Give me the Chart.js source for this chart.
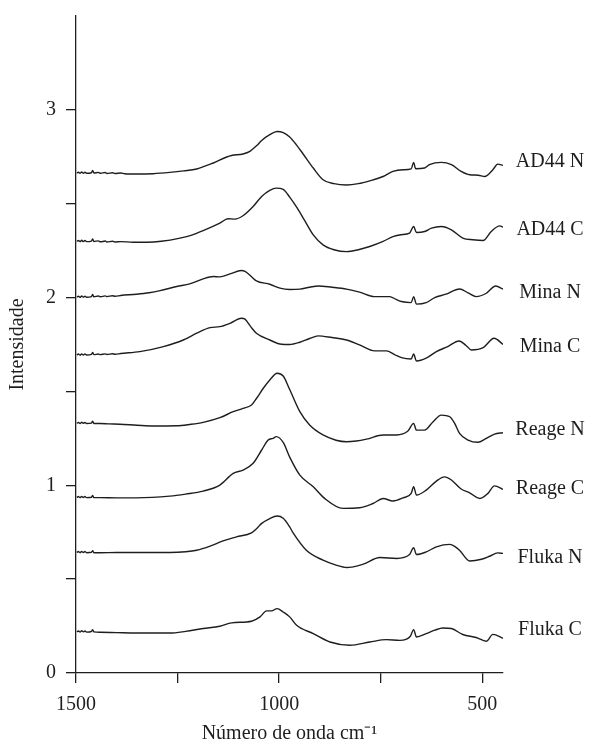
<!DOCTYPE html>
<html>
<head>
<meta charset="utf-8">
<script src="https://cdn.jsdelivr.net/npm/chart.js@4.4.1/dist/chart.umd.min.js"></script>
<style>
  html, body { margin: 0; padding: 0; background: #fff; }
  canvas { display: block; }
</style>
</head>
<body>
<canvas id="spectra" width="589" height="746"></canvas>
<script>
/* ================================
   Data (wavenumber cm-1, intensity)
================================ */
const sampleNames = ["AD44 N", "AD44 C", "Mina N", "Mina C", "Reage N", "Reage C", "Fluka N", "Fluka C"];

// where each name sits on the intensity axis
const labelLevels = [2.725, 2.361, 2.027, 1.739, 1.294, 0.980, 0.613, 0.231];

const xTicks = [1500, 1250, 1000, 750, 500];
const yTicks = [0, 0.5, 1, 1.5, 2, 2.5, 3];

const ad44N = [[1498,2.663],[1494,2.668],[1490,2.662],[1486,2.669],[1482,2.662],[1478,2.668],[1474,2.662],[1462,2.665],[1459,2.677],[1456,2.663],[1445,2.667],[1440,2.662],[1428,2.666],[1424,2.661],[1410,2.665],[1404,2.661],[1390,2.664],[1380,2.660],[1351,2.658],[1310,2.660],[1269,2.667],[1235,2.675],[1203,2.685],[1162,2.717],[1129,2.749],[1117,2.757],[1089,2.765],[1072,2.779],[1055,2.810],[1043,2.837],[1023,2.868],[1005,2.885],[990,2.879],[974,2.855],[958,2.815],[941,2.765],[916,2.690],[892,2.628],[865,2.607],[834,2.600],[805,2.607],[777,2.622],[744,2.645],[720,2.672],[695,2.681],[675,2.686],[669,2.720],[664,2.686],[642,2.690],[630,2.708],[601,2.720],[576,2.708],[552,2.672],[531,2.654],[510,2.652],[494,2.645],[474,2.681],[462,2.711],[449,2.704]];

const ad44C = [[1498,2.299],[1494,2.304],[1490,2.298],[1486,2.305],[1482,2.298],[1478,2.304],[1474,2.298],[1462,2.301],[1459,2.312],[1456,2.299],[1445,2.302],[1440,2.297],[1428,2.301],[1424,2.296],[1410,2.300],[1404,2.296],[1390,2.298],[1360,2.295],[1326,2.295],[1290,2.300],[1244,2.317],[1215,2.333],[1187,2.357],[1146,2.397],[1126,2.420],[1109,2.418],[1089,2.436],[1064,2.485],[1043,2.539],[1023,2.571],[1007,2.583],[990,2.576],[974,2.535],[955,2.475],[937,2.410],[916,2.334],[892,2.281],[865,2.255],[834,2.245],[805,2.255],[777,2.272],[744,2.299],[720,2.325],[700,2.335],[679,2.343],[669,2.379],[662,2.347],[642,2.352],[625,2.370],[601,2.379],[576,2.361],[548,2.317],[523,2.308],[498,2.304],[478,2.352],[457,2.382],[449,2.375]];

const minaN = [[1498,2.002],[1494,2.007],[1490,2.001],[1486,2.008],[1482,2.002],[1478,2.007],[1474,2.002],[1462,2.005],[1459,2.016],[1456,2.004],[1445,2.008],[1440,2.004],[1428,2.009],[1424,2.005],[1410,2.010],[1404,2.007],[1390,2.011],[1351,2.018],[1320,2.026],[1293,2.037],[1252,2.059],[1220,2.073],[1187,2.100],[1162,2.112],[1146,2.110],[1121,2.126],[1093,2.144],[1084,2.139],[1070,2.115],[1056,2.089],[1023,2.071],[998,2.050],[974,2.043],[949,2.045],[925,2.055],[904,2.062],[870,2.055],[834,2.045],[802,2.029],[765,2.005],[728,2.005],[712,1.990],[699,1.979],[675,1.973],[669,2.005],[662,1.965],[638,1.973],[617,2.000],[589,2.018],[556,2.046],[535,2.025],[515,2.005],[490,2.023],[467,2.062],[449,2.045]];

const minaC = [[1498,1.694],[1494,1.699],[1490,1.693],[1486,1.700],[1482,1.694],[1478,1.699],[1474,1.694],[1462,1.697],[1459,1.707],[1456,1.696],[1445,1.699],[1440,1.696],[1428,1.700],[1424,1.697],[1410,1.701],[1404,1.698],[1390,1.702],[1343,1.712],[1285,1.739],[1236,1.774],[1203,1.810],[1170,1.840],[1146,1.845],[1121,1.863],[1093,1.890],[1084,1.885],[1070,1.845],[1056,1.810],[1023,1.774],[994,1.751],[974,1.750],[949,1.762],[925,1.782],[904,1.796],[870,1.787],[834,1.774],[802,1.748],[765,1.716],[736,1.716],[715,1.695],[699,1.680],[675,1.673],[669,1.700],[662,1.662],[638,1.677],[613,1.712],[585,1.739],[557,1.769],[540,1.745],[527,1.721],[498,1.733],[471,1.783],[449,1.751]];

const reageN = [[1498,1.330],[1494,1.335],[1490,1.329],[1486,1.336],[1482,1.330],[1478,1.335],[1474,1.329],[1462,1.331],[1459,1.342],[1456,1.329],[1440,1.329],[1420,1.327],[1392,1.325],[1350,1.320],[1310,1.316],[1252,1.317],[1220,1.324],[1187,1.335],[1146,1.360],[1113,1.392],[1089,1.410],[1068,1.428],[1055,1.465],[1039,1.517],[1023,1.561],[1005,1.597],[990,1.582],[974,1.510],[949,1.392],[925,1.321],[892,1.268],[860,1.240],[834,1.232],[810,1.236],[785,1.246],[744,1.268],[711,1.268],[683,1.289],[669,1.330],[662,1.294],[642,1.294],[621,1.339],[601,1.374],[580,1.365],[568,1.330],[556,1.277],[535,1.241],[511,1.229],[490,1.250],[470,1.273],[449,1.280]];

const reageC = [[1498,0.935],[1494,0.940],[1490,0.934],[1486,0.941],[1482,0.935],[1478,0.940],[1474,0.934],[1462,0.936],[1459,0.946],[1456,0.934],[1440,0.934],[1400,0.933],[1351,0.933],[1269,0.942],[1230,0.953],[1187,0.969],[1146,1.001],[1113,1.063],[1089,1.081],[1064,1.117],[1043,1.188],[1027,1.241],[1015,1.250],[1007,1.259],[990,1.228],[974,1.150],[949,1.054],[916,0.992],[888,0.930],[843,0.877],[802,0.880],[769,0.903],[744,0.930],[720,0.916],[695,0.933],[675,0.957],[669,0.992],[662,0.948],[638,0.974],[613,1.022],[593,1.045],[576,1.028],[552,0.980],[531,0.960],[506,0.930],[486,0.957],[470,0.997],[449,0.978]];

const flukaN = [[1498,0.642],[1494,0.647],[1490,0.641],[1486,0.648],[1482,0.642],[1478,0.647],[1474,0.641],[1462,0.643],[1459,0.652],[1456,0.641],[1440,0.641],[1400,0.642],[1269,0.642],[1230,0.646],[1203,0.654],[1170,0.676],[1138,0.704],[1105,0.725],[1068,0.747],[1055,0.770],[1043,0.797],[1023,0.823],[1005,0.836],[990,0.824],[974,0.778],[966,0.748],[933,0.654],[892,0.601],[860,0.575],[834,0.562],[793,0.580],[752,0.615],[711,0.610],[679,0.631],[669,0.667],[662,0.631],[638,0.645],[613,0.672],[580,0.685],[568,0.675],[556,0.654],[531,0.597],[502,0.606],[482,0.622],[462,0.640],[449,0.637]];

const flukaC = [[1498,0.219],[1494,0.224],[1490,0.218],[1486,0.225],[1482,0.219],[1478,0.224],[1474,0.218],[1462,0.221],[1459,0.231],[1456,0.219],[1440,0.217],[1400,0.215],[1351,0.213],[1269,0.213],[1230,0.222],[1187,0.237],[1146,0.249],[1117,0.267],[1068,0.276],[1047,0.299],[1031,0.331],[1019,0.331],[1005,0.343],[990,0.325],[974,0.299],[957,0.254],[916,0.210],[875,0.165],[826,0.148],[777,0.165],[736,0.178],[703,0.174],[677,0.196],[669,0.231],[662,0.192],[638,0.210],[617,0.228],[597,0.240],[576,0.237],[548,0.205],[515,0.189],[490,0.169],[474,0.206],[449,0.185]];

const spectra = [ad44N, ad44C, minaN, minaC, reageN, reageC, flukaN, flukaC];

/* ================================
   Style
================================ */
const INK = "#1e1e1e";
const SERIF = "'Liberation Serif', 'Times New Roman', serif";

/* ================================
   Sample names at the right end
================================ */
const sampleLabels = {
  id: "sampleLabels",
  afterDatasetsDraw(chart) {
    const { ctx, chartArea, scales } = chart;
    ctx.save();
    ctx.font = `20px ${SERIF}`;
    ctx.fillStyle = INK;
    ctx.textAlign = "center";
    ctx.textBaseline = "middle";
    sampleNames.forEach((name, i) => {
      ctx.fillText(name, chartArea.right + 47, scales.y.getPixelForValue(labelLevels[i]));
    });
    ctx.restore();
  }
};

/* ================================
   Chart
================================ */
new Chart(document.getElementById("spectra"), {
  type: "line",
  data: {
    datasets: spectra.map((pts, i) => ({
      label: sampleNames[i],
      data: pts.map(([x, y]) => ({ x, y })),
      borderColor: INK,
      borderWidth: 1.4,
      pointRadius: 0,
      fill: false,
      cubicInterpolationMode: "monotone"
    }))
  },
  options: {
    responsive: false,
    animation: false,
    events: [],
    layout: { padding: { top: 16, right: 86, left: 0, bottom: 0 } },
    plugins: {
      legend: { display: false },
      tooltip: { enabled: false }
    },
    scales: {
      x: {
        type: "linear",
        reverse: true,
        min: 449,
        max: 1500,
        afterBuildTicks: s => { s.ticks = xTicks.map(v => ({ value: v })); },
        afterFit: s => { s.height = 73; s.paddingLeft = 0; s.paddingRight = 0; },
        ticks: {
          color: INK,
          font: { family: SERIF, size: 20 },
          padding: 10,
          maxRotation: 0,
          autoSkip: false,
          callback: v => (v % 500 === 0 ? String(v) : "")
        },
        grid: { drawOnChartArea: false, drawTicks: true, tickLength: 10, color: INK, lineWidth: 1.3 },
        border: { display: true, color: INK, width: 1.3 },
        title: {
          display: true,
          text: "Número de onda cm⁻¹",
          color: INK,
          font: { family: SERIF, size: 20 },
          padding: { top: 0, bottom: 0 }
        }
      },
      y: {
        type: "linear",
        min: 0,
        max: 3.5,
        afterBuildTicks: s => { s.ticks = yTicks.map(v => ({ value: v })); },
        afterFit: s => { s.width = 76; s.paddingTop = 0; s.paddingBottom = 0; },
        ticks: {
          color: INK,
          font: { family: SERIF, size: 20 },
          padding: 10,
          autoSkip: false,
          callback: v => (Number.isInteger(v) ? String(v) : "")
        },
        grid: { drawOnChartArea: false, drawTicks: true, tickLength: 10, color: INK, lineWidth: 1.3 },
        border: { display: true, color: INK, width: 1.3 },
        title: {
          display: true,
          text: "Intensidade",
          color: INK,
          font: { family: SERIF, size: 20 },
          padding: { top: 6, bottom: 0 }
        }
      }
    }
  },
  plugins: [sampleLabels]
});
</script>
</body>
</html>
